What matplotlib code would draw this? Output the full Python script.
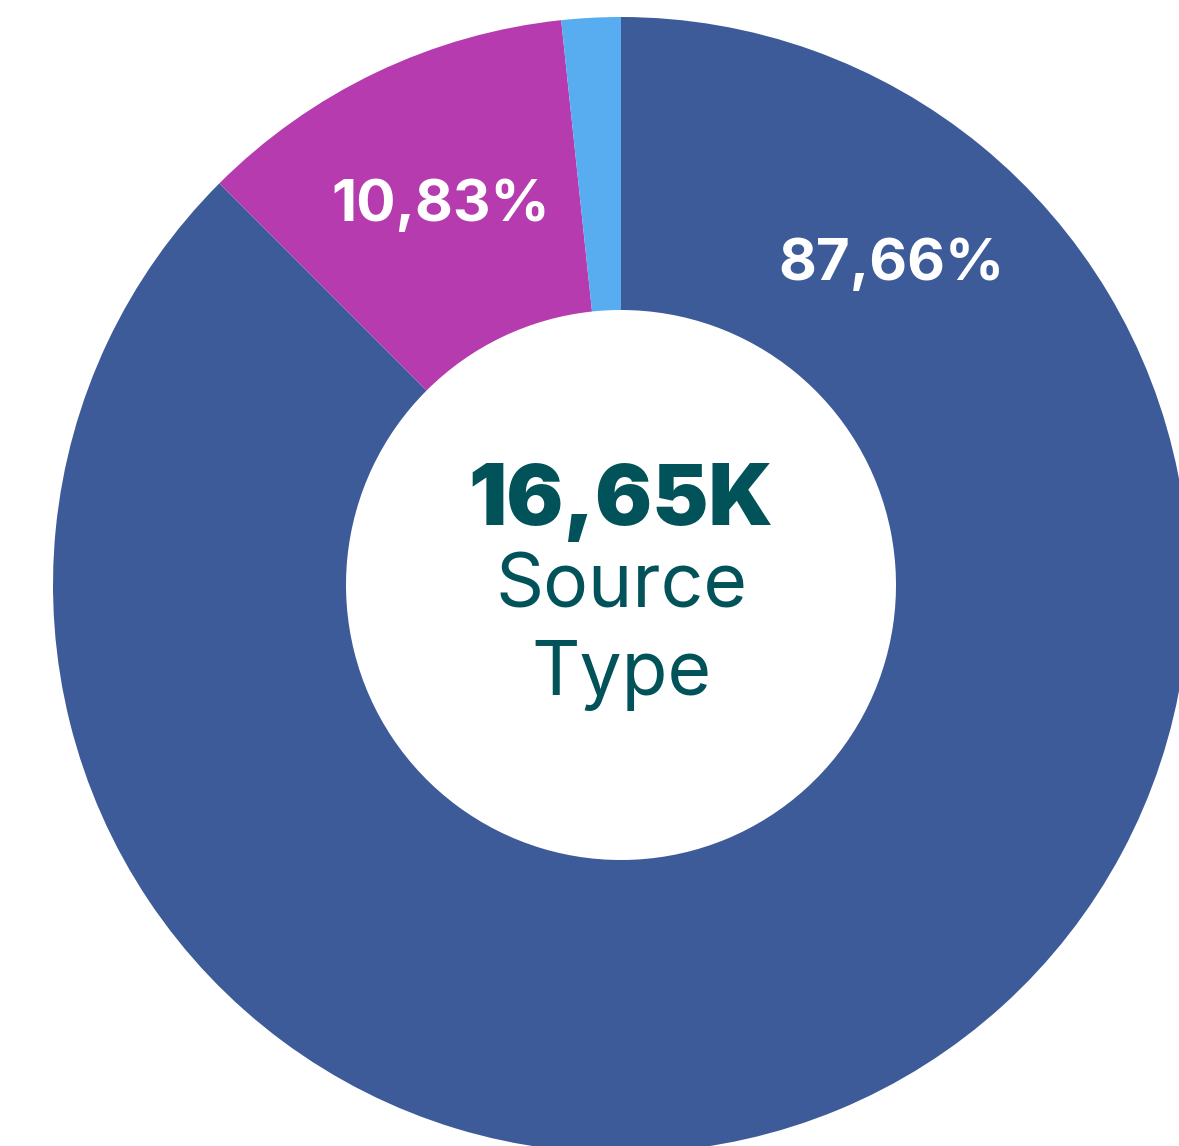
import numpy as np
import matplotlib.pyplot as plt

# ----------------------------
# Data (slice sizes as drawn, labels as printed)
# ----------------------------
categories = ["A", "B", "C"]
shares = [87.5, 10.82, 1.68]
labels = ["87,66%", "10,83%", ""]
colors = ["#3D5A99", "#B53BAE", "#58ADF0"]
total_label = "16,65K"
center_lines = ["Source", "Type"]

# ----------------------------
# Figure in pixel units
# ----------------------------
W, H = 1179, 1146
fig = plt.figure(figsize=(W / 100, H / 100), dpi=100)
ax = fig.add_axes([0, 0, 1, 1])
ax.axis("off")

cx, cy = 621, H - 585
r_out, r_in = 568, 275

wedges, _ = ax.pie(shares, colors=colors, startangle=90, counterclock=False,
                   radius=r_out, center=(cx, cy),
                   wedgeprops=dict(width=r_out - r_in, linewidth=0))
ax.set_xlim(0, W)
ax.set_ylim(0, H)
ax.set_aspect("equal")

# slice labels in the ring
r_mid = (r_out + r_in) / 2 - 2
label_angles = [49.8, None, None]
for w, lab, ang in zip(wedges, labels, label_angles):
    if not lab:
        continue
    if ang is None:
        ang = (w.theta1 + w.theta2) / 2
    x = cx + r_mid * np.cos(np.radians(ang))
    y = cy + r_mid * np.sin(np.radians(ang))
    ax.text(x, y, lab, color="white", fontsize=42, fontweight="bold",
            family="Inter", ha="center", va="center")

# centre text
teal = "#02525A"
ax.text(cx, H - 525, total_label, color=teal, fontsize=61,
        fontweight="black", family="Inter", ha="center", va="baseline")
ax.text(cx, H - 608, center_lines[0], color=teal, fontsize=54,
        family="Inter", ha="center", va="baseline")
ax.text(cx, H - 695, center_lines[1], color=teal, fontsize=54,
        family="Inter", ha="center", va="baseline")

fig.savefig("out.png", dpi=100)
